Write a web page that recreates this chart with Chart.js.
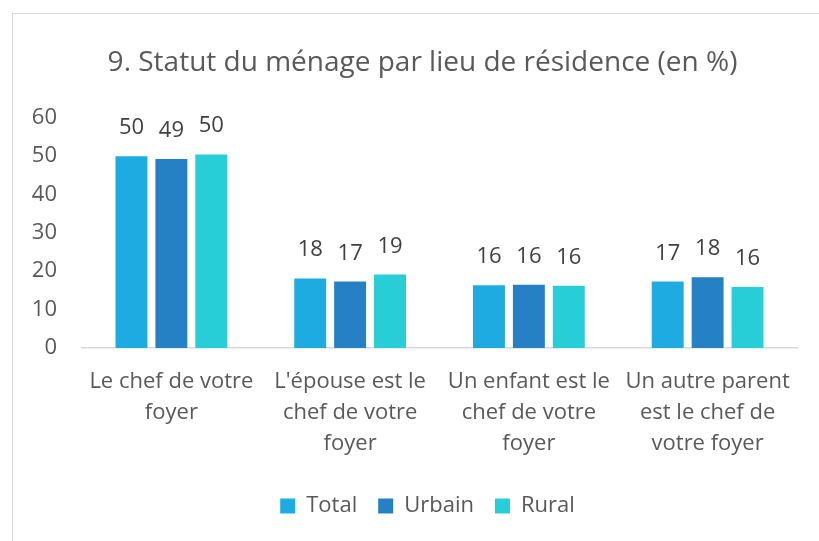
<!DOCTYPE html>
<html><head><meta charset="utf-8">
<script src="https://cdn.jsdelivr.net/npm/chart.js@4"></script>
<style>
html,body{margin:0;padding:0;background:#fff;}
#wrap{position:relative;width:819px;height:541px;overflow:hidden;}
#frame{position:absolute;left:12px;top:13px;right:-5px;bottom:-5px;border-left:1px solid #d9d9d9;border-top:1px solid #d9d9d9;pointer-events:none;}
canvas{position:absolute;left:0;top:0;}
</style></head>
<body>
<div id="wrap"><canvas id="c" width="819" height="541"></canvas><div id="frame"></div></div>
<script>
const categories = [
  ["Le chef de votre", "foyer"],
  ["L'épouse est le", "chef de votre", "foyer"],
  ["Un enfant est le", "chef de votre", "foyer"],
  ["Un autre parent", "est le chef de", "votre foyer"]
];
const seriesNames = ["Total", "Urbain", "Rural"];
const totalValues = [49.9, 18.1, 16.3, 17.3];
const urbainValues = [49.2, 17.3, 16.45, 18.4];
const ruralValues = [50.4, 19.1, 16.2, 15.9];
const yTicks = [0, 10, 20, 30, 40, 50, 60];
const colors = ["#1EABE2", "#2581C4", "#27CDD7"];
const FONT = "'Open Sans', sans-serif";
const TEXT = "#595959";

const dataLabels = {
  id: 'dataLabels',
  afterDatasetsDraw(chart) {
    const ctx = chart.ctx;
    ctx.save();
    ctx.font = "22px " + FONT;
    ctx.fillStyle = "#404040";
    ctx.textAlign = "center";
    ctx.textBaseline = "alphabetic";
    chart.data.datasets.forEach((ds, i) => {
      const meta = chart.getDatasetMeta(i);
      meta.data.forEach((bar, j) => {
        ctx.fillText(Math.round(ds.data[j]).toString(), bar.x, bar.y - 22);
      });
    });
    ctx.restore();
  }
};

const blockShift = {
  id: 'blockShift',
  afterLayout(chart) {
    const lg = chart.legend;
    if (lg) {
      const dx = 14, dy = -3;
      lg.left += dx; lg.right += dx; lg.top += dy; lg.bottom += dy;
      (lg.legendHitBoxes || []).forEach(b => { b.left += dx; b.top += dy; });
    }
    const tb = chart.titleBlock;
    if (tb) { tb.left += 9; tb.right += 9; }
  }
};

new Chart(document.getElementById('c'), {
  type: 'bar',
  data: {
    labels: categories,
    datasets: [
      {label: seriesNames[0], data: totalValues, backgroundColor: colors[0]},
      {label: seriesNames[1], data: urbainValues, backgroundColor: colors[1]},
      {label: seriesNames[2], data: ruralValues, backgroundColor: colors[2]}
    ]
  },
  options: {
    responsive: false,
    animation: false,
    categoryPercentage: 0.67,
    barPercentage: 0.8,
    layout: {padding: {left: 30, right: 22, top: 46, bottom: 11}},
    plugins: {
      title: {display: true, text: "9. Statut du ménage par lieu de résidence (en %)", color: TEXT,
        font: {family: FONT, size: 28, weight: 'normal', lineHeight: 1.2}, padding: {top: 0, bottom: 38}},
      legend: {position: 'bottom', labels: {color: TEXT, font: {family: FONT, size: 22},
        boxWidth: 15, boxHeight: 15, padding: 21}},
      tooltip: {enabled: false}
    },
    scales: {
      y: {min: 0, max: 60, afterBuildTicks: (s) => { s.ticks = yTicks.map(v => ({value: v})); },
        afterFit: (s) => { s.width = 52; },
        grid: {display: false, drawTicks: false}, border: {display: false},
        ticks: {color: TEXT, font: {family: FONT, size: 22}, padding: 25}},
      x: {grid: {display: false, drawTicks: false}, border: {display: true, color: '#d9d9d9', width: 1.5},
        ticks: {color: TEXT, font: {family: FONT, size: 22, lineHeight: 1.41}, maxRotation: 0, autoSkip: false, padding: 18}}
    }
  },
  plugins: [dataLabels, blockShift]
});
</script>
</body></html>
